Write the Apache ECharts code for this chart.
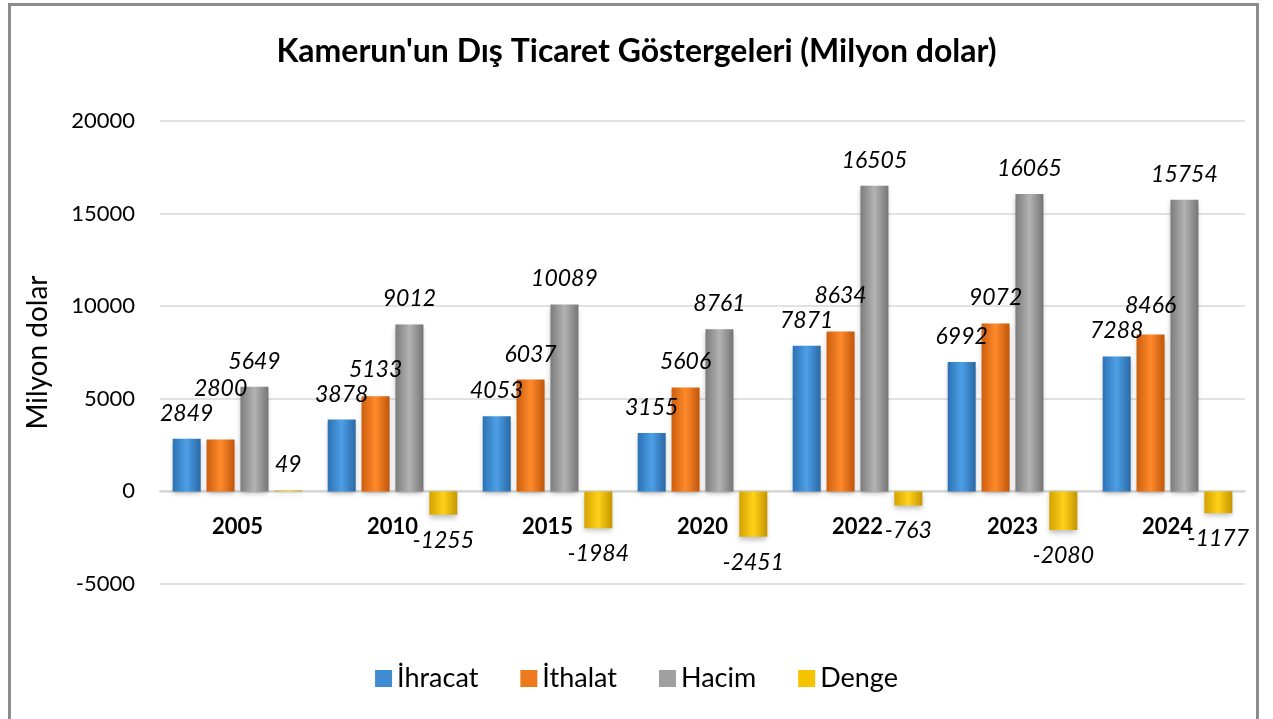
<!DOCTYPE html>
<html>
<head>
<meta charset="utf-8">
<script src="https://cdn.jsdelivr.net/npm/echarts@6/dist/echarts.min.js"></script>
<style>
html,body{margin:0;padding:0;background:#fff;}
#chart{width:1273px;height:719px;}
</style>
</head>
<body>
<div id="chart"></div>
<script>
const categories = ['2005', '2010', '2015', '2020', '2022', '2023', '2024'];
const ihracat = [2849, 3878, 4053, 3155, 7871, 6992, 7288];
const ithalat = [2800, 5133, 6037, 5606, 8634, 9072, 8466];
const hacim = [5649, 9012, 10089, 8761, 16505, 16065, 15754];
const denge = [49, -1255, -1984, -2451, -763, -2080, -1177];
const seriesNames = ['İhracat', 'İthalat', 'Hacim', 'Denge'];

const FONT = 'Lato, "Open Sans", sans-serif';

function grad(c1, c2, c3) {
  return new echarts.graphic.LinearGradient(0, 0, 1, 0, [
    {offset: 0, color: c1}, {offset: 0.5, color: c2}, {offset: 1, color: c3}
  ]);
}
const colors = [
  grad('#2c72b4', '#4d9fe6', '#2a68a6'),
  grad('#cc5e0e', '#ff8a2b', '#c0560a'),
  grad('#7c7c7c', '#b3b3b3', '#757575'),
  grad('#d4a200', '#ffd21a', '#c49500')
];
const legendColors = ['#3f8ad0', '#ee7a1e', '#a0a0a0', '#f5c400'];

// generic label collision avoidance within a category group (like Excel)
let placed = {};
function avoidOverlap(params) {
  if (params.seriesIndex === 0 && params.dataIndex === 0) placed = {};
  const r = params.labelRect;
  let y = r.y;
  const list = placed[params.dataIndex] || (placed[params.dataIndex] = []);
  let moved = true, guard = 0;
  while (moved && guard++ < 10) {
    moved = false;
    for (const o of list) {
      if (r.x < o.x + o.width && r.x + r.width > o.x && y < o.y + o.height + 2 && y + r.height > o.y - 2) {
        y = o.y - r.height - 2;
        moved = true;
      }
    }
  }
  list.push({x: r.x, y: y, width: r.width, height: r.height});
  return {dy: y - r.y};
}

function makeSeries(name, data, idx) {
  return {
    name: name,
    type: 'bar',
    data: data.map(v => ({value: v, label: {position: v < 0 ? 'bottom' : 'top'}})),
    barWidth: 28,
    barGap: '21%',
    itemStyle: {
      color: colors[idx],
      shadowBlur: 5,
      shadowColor: 'rgba(0,0,0,0.25)',
      shadowOffsetY: 3
    },
    label: {
      show: true,
      position: 'top',
      distance: 14,
      fontFamily: FONT,
      fontStyle: 'italic',
      fontSize: 23,
      color: '#000',
      formatter: function (p) { return String(p.value); }
    },
    labelLayout: avoidOverlap
  };
}

const chart = echarts.init(document.getElementById('chart'));
chart.setOption({
  backgroundColor: '#fff',
  animation: false,
  color: legendColors,
  title: {
    text: "Kamerun'un Dış Ticaret Göstergeleri (Milyon dolar)",
    left: 'center',
    top: 31,
    textStyle: {fontFamily: FONT, fontWeight: 'bold', fontSize: 32, color: '#000'}
  },
  graphic: [{
    type: 'rect',
    shape: {x: 9.5, y: 4.5, width: 1248, height: 760},
    style: {fill: 'none', stroke: '#8c8c8c', lineWidth: 3},
    silent: true
  }],
  legend: {
    data: seriesNames.map((n, i) => ({name: n, itemStyle: {color: legendColors[i]}})),
    top: 660,
    left: 'center',
    icon: 'rect',
    itemWidth: 17,
    itemHeight: 17,
    itemGap: 42,
    textStyle: {fontFamily: FONT, fontSize: 27, color: '#000'}
  },
  grid: {left: 160, right: 28, top: 121, bottom: 135, containLabel: false},
  xAxis: {
    type: 'category',
    data: categories,
    offset: -93,
    axisLine: {onZero: false, lineStyle: {color: '#d9d9d9', width: 2}},
    axisTick: {show: false},
    axisLabel: {fontFamily: FONT, fontWeight: 'bold', fontSize: 22, color: '#000', margin: 25}
  },
  yAxis: {
    type: 'value',
    min: -5000,
    max: 20000,
    interval: 5000,
    name: 'Milyon dolar',
    nameLocation: 'middle',
    nameGap: 108,
    nameTextStyle: {fontFamily: FONT, fontSize: 28, color: '#000'},
    axisLine: {show: false},
    axisTick: {show: false},
    axisLabel: {fontFamily: FONT, fontSize: 22, color: '#000', margin: 25, formatter: v => String(v)},
    splitLine: {lineStyle: {color: '#d9d9d9', width: 1.5}}
  },
  series: [
    makeSeries(seriesNames[0], ihracat, 0),
    makeSeries(seriesNames[1], ithalat, 1),
    makeSeries(seriesNames[2], hacim, 2),
    makeSeries(seriesNames[3], denge, 3)
  ]
});
</script>
</body>
</html>
